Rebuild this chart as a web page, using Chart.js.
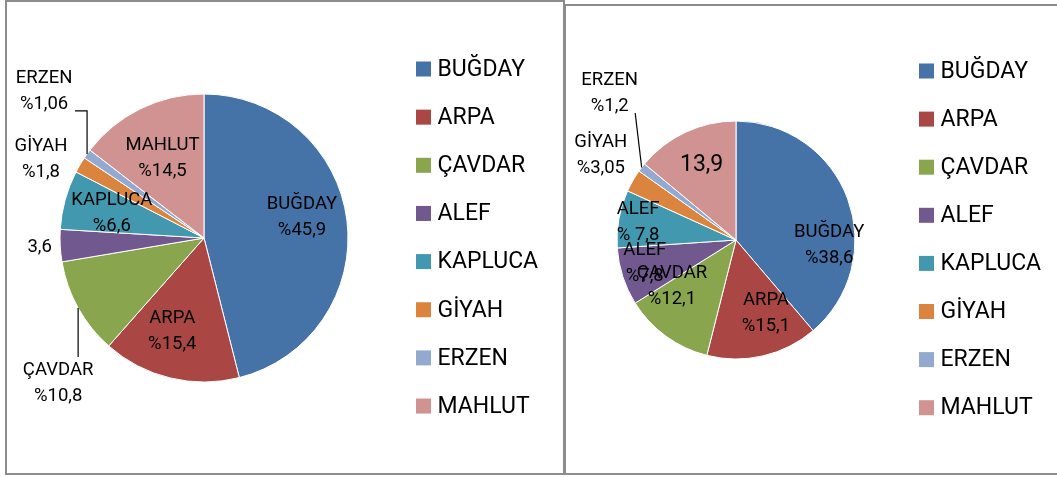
<!DOCTYPE html>
<html>
<head>
<meta charset="utf-8">
<script src="https://cdn.jsdelivr.net/npm/chart.js@4.4.1/dist/chart.umd.min.js"></script>
<style>
  html, body { margin: 0; padding: 0; background: #fff; width: 1057px; height: 477px; overflow: hidden; }
  .box { position: absolute; box-sizing: border-box; border: 2px solid #8c8c8c; }
  canvas { position: absolute; top: 0; }
</style>
</head>
<body>
<div class="box" style="left:5px; top:0; width:560px; height:475px;"></div>
<div class="box" style="left:564px; top:4px; width:520px; height:471px;"></div>
<canvas id="c1" width="564" height="477" style="left:0;"></canvas>
<canvas id="c2" width="493" height="477" style="left:564px;"></canvas>
<script>
// ---- data ----
const categories = ['BUĞDAY', 'ARPA', 'ÇAVDAR', 'ALEF', 'KAPLUCA', 'GİYAH', 'ERZEN', 'MAHLUT'];
const valuesLeft = [45.9, 15.4, 10.8, 3.6, 6.6, 1.8, 1.06, 14.5];
const valuesRight = [38.6, 15.1, 12.1, 7.8, 7.8, 3.05, 1.2, 13.9];
const labelsLeft = [['BUĞDAY', '%45,9'], ['ARPA', '%15,4'], ['ÇAVDAR', '%10,8'], ['3,6'], ['KAPLUCA', '%6,6'], ['GİYAH', '%1,8'], ['ERZEN', '%1,06'], ['MAHLUT', '%14,5']];
const labelsRight = [['BUĞDAY', '%38,6'], ['ARPA', '%15,1'], ['ÇAVDAR', '%12,1'], ['ALEF', '%7,8'], ['ALEF', '% 7,8'], ['GİYAH', '%3,05'], ['ERZEN', '%1,2'], ['13,9']];

// ---- styling ----
const colors = ['#4572A7', '#AA4643', '#89A54E', '#71588F', '#4198AF', '#DB843D', '#93A9CF', '#D19392'];
const FONT = 'Roboto';

// label placement: f = fraction of radius along mid-angle, dx/dy nudges, optional leader polyline (offsets from slice edge point)
const placeLeft = [
  {f: 0.7, dx: -2, dy: -8},
  {f: 0.7, dx: -8, dy: -5},
  {f: 1.0, dx: -20, dy: 75.5, leader: [[0, 0], [0, 49]]},
  {f: 1.15, dx: 1, dy: 1},
  {f: 0.7, dx: 5, dy: 2},
  {f: 1.0, dx: -39, dy: -5},
  {f: 1.0, dx: -43, dy: -62.5, leader: [[0, 0], [0, -43], [-12, -43]]},
  {f: 0.7, dx: 3, dy: 10.5}
];
const placeRight = [
  {f: 0.7, dx: 15, dy: 34},
  {f: 0.7, dx: 11, dy: -8},
  {f: 0.7, dx: -15, dy: -21},
  {f: 0.7, dx: -12, dy: -2},
  {f: 0.7, dx: -16, dy: -3},
  {f: 1.0, dx: -32, dy: -25},
  {f: 1.0, dx: -32, dy: -74.5, leader: [[0, 0], [-6.5, -54.5]]},
  {f: 0.7, dx: 1, dy: 1, size: 23}
];

const sliceLabels = {
  id: 'sliceLabels',
  afterDatasetsDraw(chart, args, opts) {
    const ctx = chart.ctx;
    const meta = chart.getDatasetMeta(0);
    ctx.save();
    meta.data.forEach((arc, i) => {
      const p = arc.getProps(['x', 'y', 'startAngle', 'endAngle', 'outerRadius'], true);
      const mid = (p.startAngle + p.endAngle) / 2;
      const cfg = opts.place[i];
      const ex = p.x + Math.cos(mid) * p.outerRadius;
      const ey = p.y + Math.sin(mid) * p.outerRadius;
      if (cfg.leader) {
        ctx.strokeStyle = '#000';
        ctx.lineWidth = 1.2;
        ctx.beginPath();
        cfg.leader.forEach((pt, k) => {
          if (k === 0) ctx.moveTo(ex + pt[0], ey + pt[1]); else ctx.lineTo(ex + pt[0], ey + pt[1]);
        });
        ctx.stroke();
      }
      const lx = p.x + Math.cos(mid) * p.outerRadius * cfg.f + cfg.dx;
      const ly = p.y + Math.sin(mid) * p.outerRadius * cfg.f + cfg.dy;
      const lines = opts.texts[i];
      const size = cfg.size || 18.5;
      const lh = 26;
      ctx.font = size + 'px ' + FONT;
      ctx.fillStyle = '#000';
      ctx.textAlign = 'center';
      ctx.textBaseline = 'middle';
      lines.forEach((t, k) => {
        ctx.fillText(t, lx, ly + (k - (lines.length - 1) / 2) * lh);
      });
    });
    ctx.restore();
  }
};

// legend drawn from the chart's own labels and dataset colours
const boxLegend = {
  id: 'boxLegend',
  afterDraw(chart, args, opts) {
    const ctx = chart.ctx;
    const ds = chart.data.datasets[0];
    ctx.save();
    ctx.font = opts.size + 'px ' + FONT;
    ctx.textAlign = 'left';
    ctx.textBaseline = 'middle';
    chart.data.labels.forEach((t, i) => {
      const cy = opts.y0 + i * opts.step;
      ctx.fillStyle = ds.backgroundColor[i];
      ctx.fillRect(opts.x, cy - opts.box / 2, opts.box, opts.box);
      ctx.fillStyle = '#000';
      ctx.fillText(t, opts.x + opts.box + opts.gap, cy + 1);
    });
    ctx.restore();
  }
};

function makeChart(id, values, texts, place, radius, padding, legendOpts) {
  return new Chart(document.getElementById(id), {
    type: 'pie',
    data: {
      labels: categories,
      datasets: [{
        data: values,
        backgroundColor: colors,
        borderColor: '#ffffff',
        borderWidth: 1,
        radius: radius
      }]
    },
    options: {
      responsive: false,
      animation: false,
      devicePixelRatio: 1,
      events: [],
      layout: {padding: padding},
      plugins: {
        tooltip: {enabled: false},
        legend: {display: false},
        sliceLabels: {texts: texts, place: place},
        boxLegend: legendOpts
      }
    },
    plugins: [sliceLabels, boxLegend]
  });
}

function draw() {
  makeChart('c1', valuesLeft, labelsLeft, placeLeft, 144,
    {left: 0, right: 156, top: 0, bottom: 1},
    {x: 416, y0: 69, step: 48.15, box: 15, gap: 6.5, size: 23});
  makeChart('c2', valuesRight, labelsRight, placeRight, 119,
    {left: 0, right: 149, top: 3, bottom: 0},
    {x: 355, y0: 71, step: 48.1, box: 15, gap: 6.5, size: 23});
}

const fl = document.fonts ? Promise.all([
  document.fonts.load('23px Roboto'), document.fonts.load('18.5px Roboto')
]).catch(() => {}) : Promise.resolve();
Promise.race([fl, new Promise(r => setTimeout(r, 500))]).then(draw);
</script>
</body>
</html>
